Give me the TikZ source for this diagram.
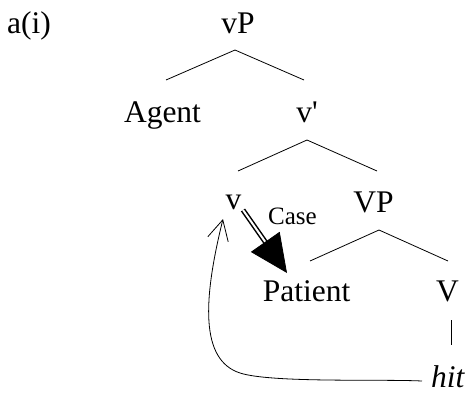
\documentclass[tikz,border=0pt]{standalone}
\usepackage{fontspec}
\setmainfont{Liberation Serif}
\usetikzlibrary{calc,arrows.meta}
\begin{document}
\begin{tikzpicture}[x=1pt,y=-1pt,
  lab/.style={inner sep=0pt,anchor=base,font=\fontsize{31.5}{36}\selectfont},
  branch/.style={line width=0.8pt},
  move/.style={line width=0.8pt,-{Straight Barb[length=20pt,width=21pt]}},
  casearrow/.style={double,double distance=2pt,line width=1.5pt,shorten >=30pt}]
\useasboundingbox (0,0) rectangle (469,394);
\node[lab,anchor=base west] (ai) at (7,33) {a(i)};
\node[lab] (vP) at (238,33) {vP};
\node[lab] (Agent) at (162.5,122) {Agent};
\node[lab] (vbar) at (307,122) {v\textquotesingle};
\node[lab] (v) at (233.5,209) {v};
\node[lab] (VP) at (373.5,212) {VP};
\node[lab] (Patient) at (306.5,301) {Patient};
\node[lab] (V) at (447.5,301) {V};
\node[lab,anchor=base west] (hit) at (431,387) {\itshape hit};
\node[inner sep=0pt,anchor=base west,font=\fontsize{25}{30}\selectfont] (case) at (268,224) {Case};
% tree branches
\draw[branch] ($(Agent.base)+(3.5,-42)$) -- ($(vP.base)+(-3,17)$) -- ($(vbar.base)+(-3,-42)$);
\draw[branch] ($(v.base)+(4.5,-38)$) -- ($(vbar.base)+(0,18)$) -- ($(VP.base)+(3.5,-41)$);
\draw[branch] ($(Patient.base)+(3.5,-40)$) -- ($(VP.base)+(5.5,18)$) -- ($(V.base)+(0.5,-40)$);
\draw[branch] ($(V.base)+(3.5,19)$) -- ($(hit.base west)+(20,-42)$);
% case assignment arrow
\coordinate (cs) at ($(v.base)+(9.5,1)$);
\coordinate (ct) at ($(Patient.base)+(-19.5,-28)$);
\draw[casearrow] (cs) -- (ct);
\draw[line width=0.8pt,-{Triangle[length=38pt,width=35pt]}] ($(cs)!0.9!(ct)$) -- (ct);
% head movement
\coordinate (mt) at ($(v.base)+(-10.5,10)$);
\draw[move] ($(hit.base west)+(-9,-6)$) .. controls (380,379) and (271,383) .. (240,373)
  .. controls (200,360) and (203,300) .. (mt);
\end{tikzpicture}
\end{document}
